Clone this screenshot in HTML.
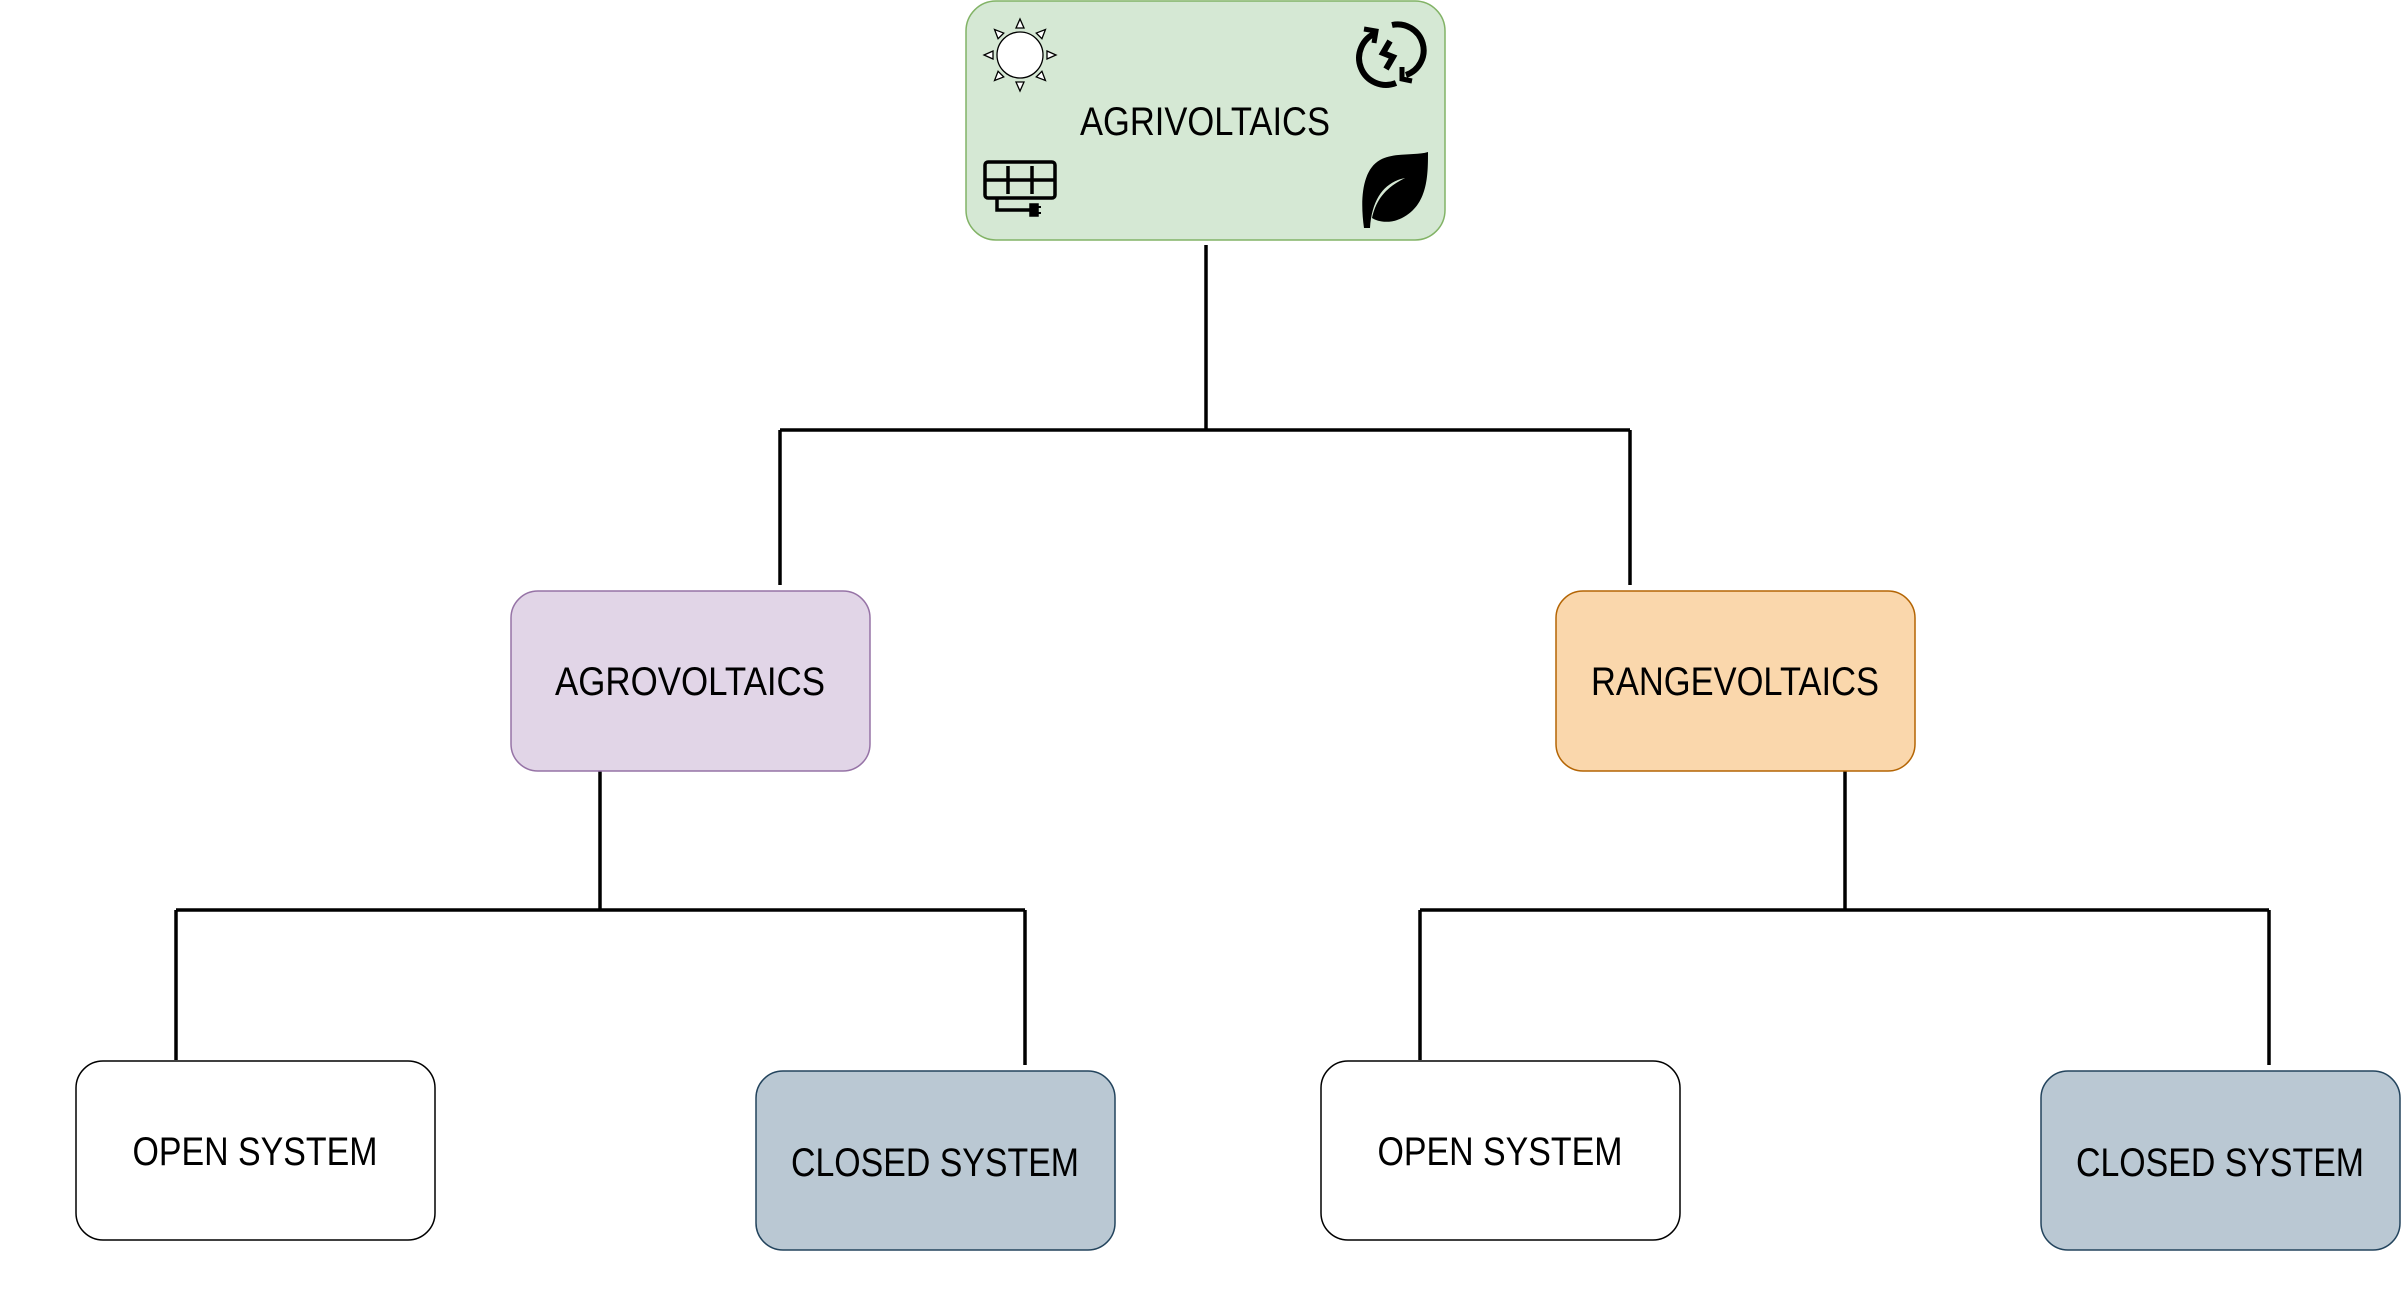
<!DOCTYPE html>
<html><head><meta charset="utf-8"><style>
html,body{margin:0;padding:0;background:#fff;}
svg{display:block;}
text{font-family:"Liberation Sans","DejaVu Sans",sans-serif;font-size:40px;fill:#000;}
</style></head><body>
<svg width="2402" height="1291" viewBox="0 0 2402 1291" xmlns="http://www.w3.org/2000/svg">
<g fill="none" stroke="#000" stroke-width="3.5">
<path d="M1206 245V430M780 430H1630M780 430V585M1630 430V585"/>
<path d="M600 771V910M176 910H1025M176 910V1060M1025 910V1065"/>
<path d="M1845 771V910M1420 910H2269M1420 910V1060M2269 910V1065"/>
</g>
<rect x="966" y="1" width="479" height="239" rx="30" fill="#d5e8d4" stroke="#82b366" stroke-width="1.5"/>
<rect x="511" y="591" width="359" height="180" rx="27" fill="#e1d5e7" stroke="#9673a6" stroke-width="1.5"/>
<rect x="1556" y="591" width="359" height="180" rx="27" fill="#fad7ac" stroke="#b46504" stroke-width="1.5"/>
<rect x="76" y="1061" width="359" height="179" rx="27" fill="#fff" stroke="#000" stroke-width="1.5"/>
<rect x="1321" y="1061" width="359" height="179" rx="27" fill="#fff" stroke="#000" stroke-width="1.5"/>
<rect x="756" y="1071" width="359" height="179" rx="27" fill="#bac8d3" stroke="#23445d" stroke-width="1.5"/>
<rect x="2041" y="1071" width="359" height="179" rx="27" fill="#bac8d3" stroke="#23445d" stroke-width="1.5"/>
<text x="1205" y="135" text-anchor="middle" textLength="250" lengthAdjust="spacingAndGlyphs">AGRIVOLTAICS</text>
<text x="690" y="695" text-anchor="middle" textLength="270" lengthAdjust="spacingAndGlyphs">AGROVOLTAICS</text>
<text x="1735" y="695" text-anchor="middle" textLength="288" lengthAdjust="spacingAndGlyphs">RANGEVOLTAICS</text>
<text x="255" y="1165" text-anchor="middle" textLength="245" lengthAdjust="spacingAndGlyphs">OPEN SYSTEM</text>
<text x="1500" y="1165" text-anchor="middle" textLength="245" lengthAdjust="spacingAndGlyphs">OPEN SYSTEM</text>
<text x="935" y="1176" text-anchor="middle" textLength="288" lengthAdjust="spacingAndGlyphs">CLOSED SYSTEM</text>
<text x="2220" y="1176" text-anchor="middle" textLength="288" lengthAdjust="spacingAndGlyphs">CLOSED SYSTEM</text>
<!-- sun -->
<g transform="translate(1020,55)" stroke="#000" stroke-width="1.3" fill="#fff">
<circle r="23"/>
<g id="ray"><path d="M-4 -27 L0 -36 L4 -27Z"/></g>
<use href="#ray" transform="rotate(45)"/><use href="#ray" transform="rotate(90)"/><use href="#ray" transform="rotate(135)"/>
<use href="#ray" transform="rotate(180)"/><use href="#ray" transform="rotate(225)"/><use href="#ray" transform="rotate(270)"/><use href="#ray" transform="rotate(315)"/>
</g>
<!-- recycle energy -->
<g transform="translate(1388,55)" fill="none" stroke="#000" stroke-width="6">
<path d="M-12 -22 A26 26 0 0 0 8 28"/>
<path d="M4 -30 A26 26 0 0 1 18 20"/>
<path d="M2 -14 L-5 -2 L5 2 L-2 14"/>
<path d="M-24 -26 L-12 -24 L-14 -12" stroke-width="5"/>
<path d="M24 26 L14 24 L14 12" stroke-width="5"/>
</g>
<!-- solar panel -->
<g transform="translate(985,162)" fill="none" stroke="#000" stroke-width="3.5">
<rect x="0" y="0" width="70" height="36" rx="3"/>
<path d="M0 18H70M23 4V32M47 4V32"/>
<path d="M12 36V48H46"/>
<path d="M46 43h6v10h-6z" fill="#000"/>
<path d="M52 45h4M52 51h4" stroke-width="2"/>
</g>
<!-- leaf -->
<path d="M1364 228 C1360 200 1362 170 1380 160 C1395 152 1415 156 1428 152 C1428 175 1428 205 1402 218 C1390 224 1378 222 1372 218 C1376 200 1385 188 1405 178 C1385 182 1372 198 1370 228 Z" fill="#000"/>
</svg>
</body></html>
